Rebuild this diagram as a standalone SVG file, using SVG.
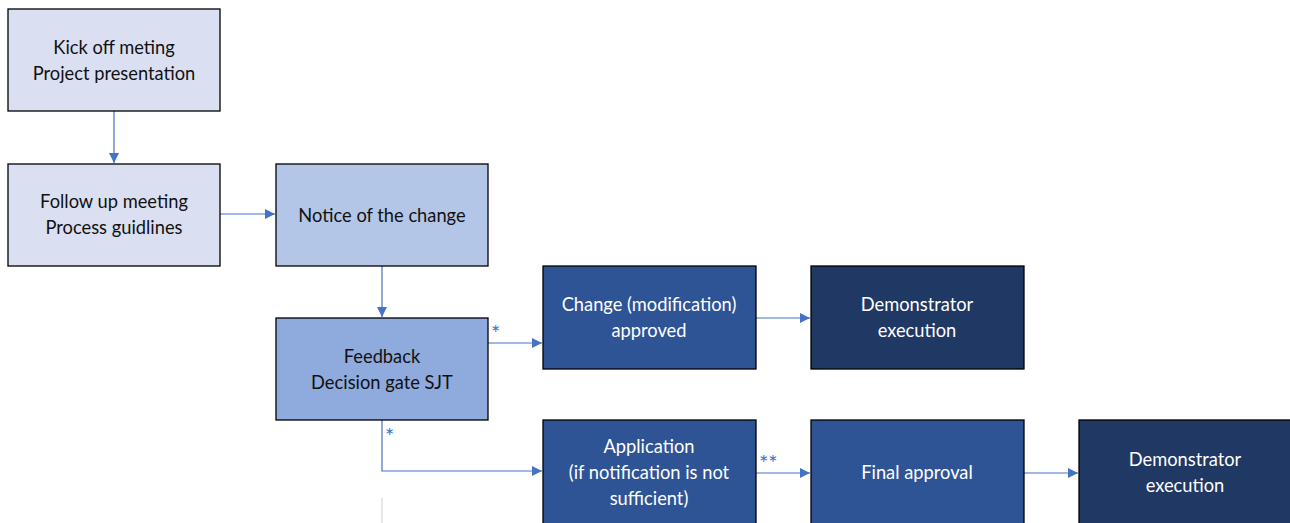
<svg xmlns="http://www.w3.org/2000/svg" width="1290" height="523" viewBox="0 0 1290 523">
<style>
.box{stroke:#000;stroke-width:1.3}
.l1{fill:#DAE0F2}.l2{fill:#B4C6E7}.l3{fill:#8FAADC}.d1{fill:#2F5496}.d2{fill:#203864}
text{font-family:Lato,"Liberation Sans",sans-serif;font-size:18.3px;text-anchor:middle}
.dk{fill:#111}.wt{fill:#fff}
.c{stroke:#4472C4;stroke-width:1.2;fill:none}
.ast{fill:#4472C4;font-size:22px;text-anchor:start}
</style>
<defs>
<marker id="a" viewBox="0 0 10 10" refX="10" refY="5" markerWidth="10" markerHeight="10" markerUnits="userSpaceOnUse" orient="auto">
<path d="M0,0L10,5L0,10z" fill="#4472C4"/>
</marker>
</defs>
<rect width="1290" height="523" fill="#fff"/>
<g id="connectors">
<line class="c" x1="114" y1="111" x2="114" y2="163" marker-end="url(#a)"/>
<line class="c" x1="220" y1="214" x2="275" y2="214" marker-end="url(#a)"/>
<line class="c" x1="382" y1="266" x2="382" y2="317" marker-end="url(#a)"/>
<line class="c" x1="488" y1="343" x2="542" y2="343" marker-end="url(#a)"/>
<polyline class="c" points="382,420 382,471 542,471" marker-end="url(#a)"/>
<line class="c" x1="756" y1="318" x2="810" y2="318" marker-end="url(#a)"/>
<line class="c" x1="756" y1="473" x2="810" y2="473" marker-end="url(#a)"/>
<line class="c" x1="1024" y1="473" x2="1078" y2="473" marker-end="url(#a)"/>
<line x1="382" y1="498" x2="382" y2="523" stroke="#d9d9d9" stroke-width="1.2"/>
<text class="ast" x="491" y="341">*</text>
<text class="ast" x="385" y="444">*</text>
<text class="ast" x="759" y="471">**</text>
</g>
<g id="n1"><rect class="box l1" x="8" y="9" width="212" height="102"/><text class="dk" x="114" y="54">Kick off meting</text><text class="dk" x="114" y="80">Project presentation</text></g>
<g id="n2"><rect class="box l1" x="8" y="164" width="212" height="102"/><text class="dk" x="114" y="208">Follow up meeting</text><text class="dk" x="114" y="234">Process guidlines</text></g>
<g id="n3"><rect class="box l2" x="276" y="164" width="212" height="102"/><text class="dk" x="382" y="222">Notice of the change</text></g>
<g id="n4"><rect class="box l3" x="276" y="318" width="212" height="102"/><text class="dk" x="382" y="363">Feedback</text><text class="dk" x="382" y="389">Decision gate SJT</text></g>
<g id="n5"><rect class="box d1" x="543" y="266" width="213" height="103"/><text class="wt" x="649" y="311">Change (modification)</text><text class="wt" x="649" y="337">approved</text></g>
<g id="n6"><rect class="box d2" x="811" y="266" width="213" height="103"/><text class="wt" x="917" y="311">Demonstrator</text><text class="wt" x="917" y="337">execution</text></g>
<g id="n7"><rect class="box d1" x="543" y="420" width="213" height="110"/><text class="wt" x="649" y="453">Application</text><text class="wt" x="649" y="479">(if notification is not</text><text class="wt" x="649" y="505">sufficient)</text></g>
<g id="n8"><rect class="box d1" x="811" y="420" width="213" height="110"/><text class="wt" x="917" y="479">Final approval</text></g>
<g id="n9"><rect class="box d2" x="1079" y="420" width="220" height="110"/><text class="wt" x="1185" y="466">Demonstrator</text><text class="wt" x="1185" y="492">execution</text></g>
</svg>
